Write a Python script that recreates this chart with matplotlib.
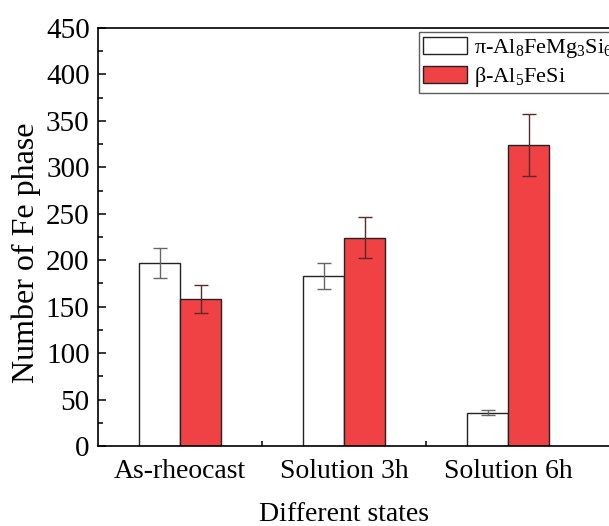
import matplotlib
matplotlib.use("Agg")
import matplotlib.pyplot as plt
import numpy as np
from matplotlib.ticker import MultipleLocator, FixedLocator

states = ["As-rheocast", "Solution 3h", "Solution 6h"]
pi_vals = [197, 183, 36]
pi_err = [16, 14, 3]
beta_vals = [158, 224, 324]
beta_err = [15, 22, 33]
labels = ["π-Al$_8$FeMg$_3$Si$_6$", "β-Al$_5$FeSi"]

plt.rcParams["font.family"] = ["Liberation Serif", "DejaVu Serif"]
plt.rcParams["mathtext.fontset"] = "custom"
plt.rcParams["mathtext.rm"] = "Liberation Serif"
plt.rcParams["mathtext.it"] = "Liberation Serif:italic"

fig = plt.figure(figsize=(6.09, 5.26), dpi=100)
# axes run past the right edge, like the cropped original
ax = fig.add_axes([98 / 609, 80 / 526, 542 / 609, 418 / 526])

x = np.arange(len(states))
w = 0.25
ax.bar(x - w / 2, pi_vals, w, color="white", edgecolor="#222222", linewidth=1.0,
       yerr=pi_err, error_kw=dict(ecolor="#666666", elinewidth=1.0, capsize=5, capthick=1.0),
       label=labels[0])
ax.bar(x + w / 2, beta_vals, w, color="#f04144", edgecolor="#222222", linewidth=1.0,
       yerr=beta_err, error_kw=dict(ecolor="#5a2a2a", elinewidth=1.0, capsize=5, capthick=1.0),
       label=labels[1])

ax.set_xlim(-0.5, -0.5 + 542 / 164)
ax.set_ylim(0, 450)
ax.set_xticks(x)
ax.set_xticklabels(states)
ax.xaxis.set_minor_locator(FixedLocator([0.5, 1.5]))
ax.yaxis.set_major_locator(MultipleLocator(50))
ax.yaxis.set_minor_locator(MultipleLocator(25))
ax.tick_params(which="both", direction="in", labelsize=20, width=1.1)
ax.tick_params(which="major", length=6)
ax.tick_params(which="minor", length=3.5)
ax.tick_params(axis="x", which="major", length=0, pad=9)
ax.tick_params(axis="y", which="major", pad=6, labelsize=21)
for s in ax.spines.values():
    s.set_linewidth(1.2)

ax.set_ylabel("Number of Fe phase", fontsize=23)
ax.yaxis.set_label_coords(-0.105, 0.462)
# x label sits under the middle group, not the (cropped) axes centre
ax.set_xlabel("Different states", fontsize=20)
ax.xaxis.set_label_coords(0.454, -0.135)

leg = ax.legend(loc="upper left", bbox_to_anchor=(0.592, 0.99), borderaxespad=0,
                fontsize=16, frameon=True, fancybox=False, edgecolor="#333333",
                handlelength=1.95, handleheight=0.82, handletextpad=0.35,
                borderpad=0.2, labelspacing=0.22)
leg.get_frame().set_linewidth(1.0)

fig.savefig("out.png", dpi=100)
